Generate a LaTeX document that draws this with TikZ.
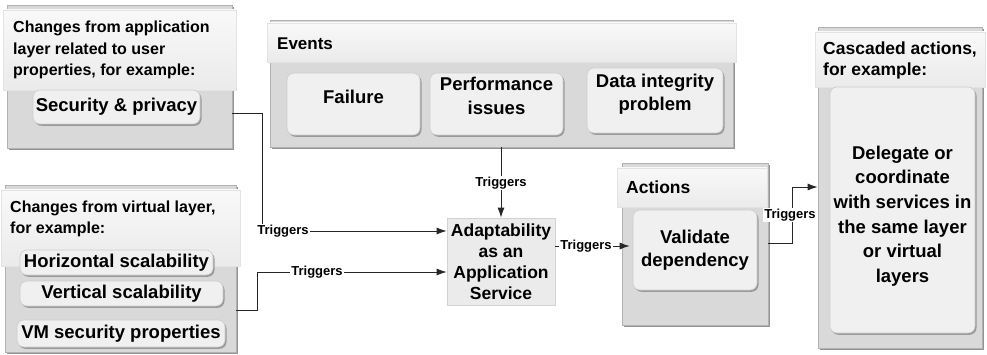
\documentclass[tikz,border=0pt]{standalone}
\usepackage{fontspec}
\setmainfont{Liberation Sans}
\usetikzlibrary{shadows,arrows.meta,fit}
\begin{document}
\begin{tikzpicture}[x=1pt,y=-1pt,
  every node/.style={inner sep=0pt},
  outerbox/.style={draw=gray!60, line width=0.8pt, fill=gray!30, inner sep=0pt,
     drop shadow={shadow xshift=2pt, shadow yshift=-2pt, fill=gray!85, opacity=1}},
  hdrstrip/.style={draw=gray!22, line width=0.5pt, top color=gray!5, bottom color=gray!16, inner sep=0pt},
  hdrtext/.style={anchor=west, align=left, font=\bfseries\fontsize{16}{21.5}\selectfont},
  pill/.style={draw=gray!40, line width=0.6pt, fill=gray!12, rounded corners=7pt, inner sep=0pt,
     drop shadow={shadow xshift=1.5pt, shadow yshift=-1.8pt, fill=gray!80, opacity=1}},
  pilltext/.style={align=center, font=\bfseries\fontsize{18.5}{23.5}\selectfont},
  conn/.style={draw=black!85, line width=0.9pt},
  arr/.style={conn, -{Latex[length=10pt,width=7pt]}},
  trig/.style={fill=white, inner sep=1pt, font=\bfseries\fontsize{13}{15}\selectfont},
]
\fill[white] (0,0) rectangle (987,355);
\useasboundingbox (0,0) rectangle (987,355);

% Box 1: application layer
\node[outerbox, fit={(7,5)(232,148)}] (app) {};
\node[hdrstrip, fit={(3,10)(236,90)}] (apphdr) {};
\node[hdrtext] (appt) at (13,50) {Changes from application\\layer related to user\\properties, for example:};
\node[pill, pilltext, minimum width=167pt, minimum height=34pt] (sec) at (116.5,107) {Security \& privacy};

% Box 2: virtual layer
\node[outerbox, fit={(5,185)(236,352)}] (virt) {};
\node[hdrstrip, fit={(1,190)(240,266)}] (virthdr) {};
\node[hdrtext] (virtt) at (10,219) {Changes from virtual layer,\\for example:};
\node[pill, pilltext, minimum width=193pt, minimum height=25pt] (hor) at (116.5,262.5) {Horizontal scalability};
\node[pill, pilltext, minimum width=203pt, minimum height=25pt] (ver) at (121.5,293.5) {Vertical scalability};
\node[pill, pilltext, minimum width=208pt, minimum height=27pt] (vm) at (121,333.5) {VM security properties};

% Events
\node[outerbox, fit={(270,20)(733,147)}] (events) {};
\node[hdrstrip, fit={(267,23)(736,62)}] (evhdr) {};
\node[hdrtext, font=\bfseries\fontsize{17}{21}\selectfont] (evt) at (277,44) {Events};
\node[pill, fit={(287,73)(420,135)}] (failbox) {};
\node[pilltext] (fail) at (353.5,97) {Failure};
\node[pill, fit={(430,73)(563,135)}] (perfbox) {};
\node[pilltext] (perf) at (496.5,96) {Performance\\issues};
\node[pill, fit={(587,68)(723,133)}] (databox) {};
\node[pilltext] (data) at (655,94) {Data integrity\\problem};

% Adaptability
\node[draw=gray!35, line width=0.8pt, fill=gray!16, minimum width=108pt, minimum height=87pt,
      align=center, font=\bfseries\fontsize{17.5}{21}\selectfont] (adapt) at (501,261.5)
      {Adaptability\\as an\\Application\\Service};

% Actions
\node[outerbox, fit={(622,163)(768,325)}] (act) {};
\node[hdrstrip, fit={(617,168)(767,207)}] (acthdr) {};
\node[hdrtext, font=\bfseries\fontsize{17.5}{21}\selectfont] (actt) at (626,187) {Actions};
\node[pill, pilltext, minimum width=124pt, minimum height=80pt] (val) at (695,250) {Validate\\dependency};

% Cascaded
\node[outerbox, fit={(818,27)(982,348)}] (casc) {};
\node[hdrstrip, fit={(815,32)(985,87)}] (caschdr) {};
\node[hdrtext, font=\bfseries\fontsize{17.5}{21}\selectfont] (casct) at (823,60) {Cascaded actions,\\for example:};
\node[pill, fit={(830,87)(975,333)}] (delbox) {};
\node[pilltext, font=\bfseries\fontsize{18.5}{24.7}\selectfont] (del) at (902.5,216)
  {Delegate or\\coordinate\\with services in\\the same layer\\or virtual\\layers};

% Connectors
\draw[arr] (events.south -| adapt.north) -- (adapt.north);
\node[trig] (t0) at (adapt.north |- 0,183) {Triggers};

\coordinate (b1) at (262,113);
\draw[arr] (app.east |- b1) -- (b1) |- (adapt.west |- 0,231);
\node[trig] (t1) at (283,231) {Triggers};

\coordinate (b2) at (257,310);
\draw[arr] (virt.east |- b2) -- (b2) |- (adapt.west |- 0,272);
\node[trig] (t2) at (317,272) {Triggers};

\draw[arr, shorten >=3pt] (adapt.east |- 0,246) -- (val.west |- 0,246);
\node[trig] (t3) at (586,246) {Triggers};

\coordinate (b4) at (792,243);
\draw[arr] (act.east |- b4) -- (b4) |- (casc.west |- 0,187);
\node[trig] (t4) at (790,215) {Triggers};
\end{tikzpicture}
\end{document}
